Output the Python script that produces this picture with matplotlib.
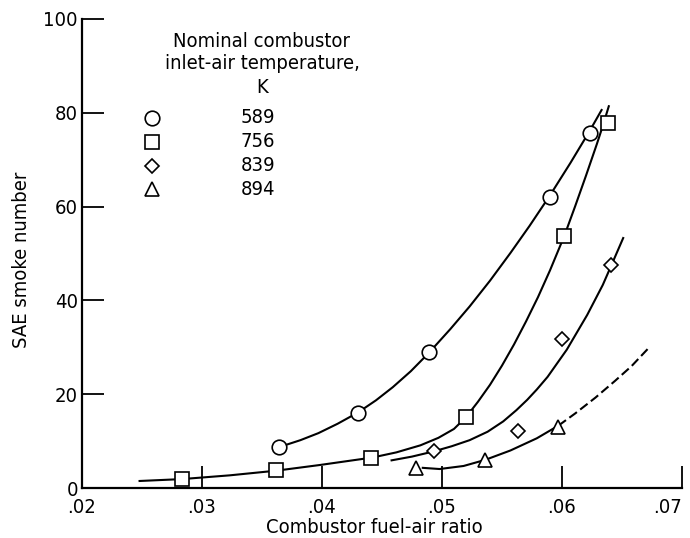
import matplotlib
matplotlib.use("Agg")
import matplotlib.pyplot as plt

plt.rcParams['font.family'] = ['DejaVu Sans']
plt.rcParams['font.stretch'] = 'condensed'

# Puntos medidos
x_589 = [0.0364, 0.0430, 0.0489, 0.0590, 0.0623]
y_589 = [8.7, 16.0, 29.0, 62.0, 75.7]
x_756 = [0.0283, 0.0362, 0.0441, 0.0520, 0.0602, 0.0638]
y_756 = [1.9, 3.8, 6.3, 15.1, 53.7, 77.8]
x_839 = [0.0493, 0.0563, 0.0600, 0.0641]
y_839 = [7.9, 12.1, 31.8, 47.5]
x_894 = [0.0478, 0.0536, 0.0597]
y_894 = [4.3, 6.0, 13.0]

# Curvas trazadas
cx_589 = [0.0364, 0.0382, 0.0397, 0.0413, 0.0430, 0.0445, 0.0459, 0.0474, 0.0489,
          0.0507, 0.0523, 0.0540, 0.0557, 0.0573, 0.0590, 0.0607, 0.0623, 0.0633]
cy_589 = [8.7, 10.2, 11.7, 13.7, 16.1, 18.7, 21.5, 24.9, 28.8,
          33.9, 38.7, 44.2, 50.1, 55.9, 62.4, 69.3, 76.1, 80.6]
cx_756 = [0.0248, 0.0283, 0.0323, 0.0362, 0.0398, 0.0442, 0.0462, 0.0482, 0.0497,
          0.0510, 0.0520, 0.0530, 0.0540, 0.0550, 0.0560, 0.0570, 0.0580, 0.0590,
          0.0602, 0.0611, 0.0620, 0.0629, 0.0634, 0.0639]
cy_756 = [1.5, 1.9, 2.7, 3.7, 4.9, 6.5, 7.6, 9.1, 10.7,
          12.6, 15.1, 18.4, 22.0, 26.1, 30.6, 35.5, 40.7, 46.4,
          53.8, 60.1, 66.6, 73.3, 77.2, 81.4]
cx_839 = [0.0458, 0.0475, 0.0493, 0.0508, 0.0523, 0.0538, 0.0551, 0.0562, 0.0571,
          0.0579, 0.0588, 0.0604, 0.0621, 0.0634, 0.0641, 0.0651]
cy_839 = [5.9, 6.7, 7.8, 8.9, 10.2, 12.0, 14.2, 16.6, 18.8,
          21.0, 23.7, 29.5, 36.9, 43.3, 47.4, 53.3]
cx_894 = [0.0484, 0.0498, 0.0518, 0.0536, 0.0557, 0.0579, 0.0597]
cy_894 = [4.3, 4.05, 4.7, 6.0, 8.0, 10.6, 13.3]
dx_894 = [0.0597, 0.0611, 0.0628, 0.0644, 0.0658, 0.0672]
dy_894 = [13.3, 15.9, 19.3, 22.8, 26.0, 29.8]

temps = ['589', '756', '839', '894']
marcas = ['o', 's', 'D', '^']
tamanos = [10.5, 10, 6.8, 10.5]

xticks = [0.02, 0.03, 0.04, 0.05, 0.06, 0.07]
xlabels = ['.02', '.03', '.04', '.05', '.06', '.07']
yticks = [0, 20, 40, 60, 80, 100]

fig = plt.figure(figsize=(6.9, 5.38), dpi=100)
ax = fig.add_axes([0.1188, 0.0929, 0.8696, 0.8718])

lw = 1.5
ax.plot(cx_589, cy_589, color='black', lw=lw, zorder=2)
ax.plot(cx_756, cy_756, color='black', lw=lw, zorder=2)
ax.plot(cx_839, cy_839, color='black', lw=lw, zorder=2)
ax.plot(cx_894, cy_894, color='black', lw=lw, zorder=2)
ax.plot(dx_894, dy_894, color='black', lw=lw, dashes=(4.5, 2), zorder=2)

datos = [(x_589, y_589), (x_756, y_756), (x_839, y_839), (x_894, y_894)]
for (xs, ys), m, ms in zip(datos, marcas, tamanos):
    ax.plot(xs, ys, linestyle='none', marker=m, markersize=ms,
            markerfacecolor='white', markeredgecolor='black',
            markeredgewidth=1.2, zorder=3)

ax.set_xlim(0.02, 0.07)
ax.set_ylim(0, 100)
ax.set_xticks(xticks)
ax.set_xticklabels(xlabels)
ax.set_yticks(yticks)
ax.tick_params(direction='in', length=16, width=1.3, labelsize=14.5)
ax.tick_params(axis='x', pad=7.5)
ax.tick_params(axis='y', pad=3)
ax.get_xticklabels()[-1].set_horizontalalignment('right')
for lab in ax.get_yticklabels():
    lab.set_verticalalignment('center_baseline')

for s in ['top', 'right']:
    ax.spines[s].set_visible(False)
for s in ['left', 'bottom']:
    ax.spines[s].set_linewidth(1.6)

ax.set_xlabel('Combustor fuel-air ratio', fontsize=14.5)
ax.xaxis.set_label_coords(0.488, -0.064)
ax.set_ylabel('SAE smoke number', fontsize=14.5)
ax.yaxis.set_label_coords(-0.085, 0.486)

# Leyenda
ax.text(0.30, 0.951, 'Nominal combustor', transform=ax.transAxes,
        ha='center', va='center', fontsize=14.5)
ax.text(0.30, 0.906, 'inlet-air temperature,', transform=ax.transAxes,
        ha='center', va='center', fontsize=14.5)
ax.text(0.30, 0.853, 'K', transform=ax.transAxes,
        ha='center', va='center', fontsize=14.5)
ley_y = [0.789, 0.738, 0.687, 0.6375]
for t, m, ms, yy in zip(temps, marcas, tamanos, ley_y):
    ax.plot([0.1167], [yy], transform=ax.transAxes, linestyle='none',
            marker=m, markersize=ms, markerfacecolor='white',
            markeredgecolor='black', markeredgewidth=1.2, clip_on=False)
    ax.text(0.2933, yy, t, transform=ax.transAxes, ha='center', va='center',
            fontsize=14.5)

fig.savefig('out.png', dpi=100)
